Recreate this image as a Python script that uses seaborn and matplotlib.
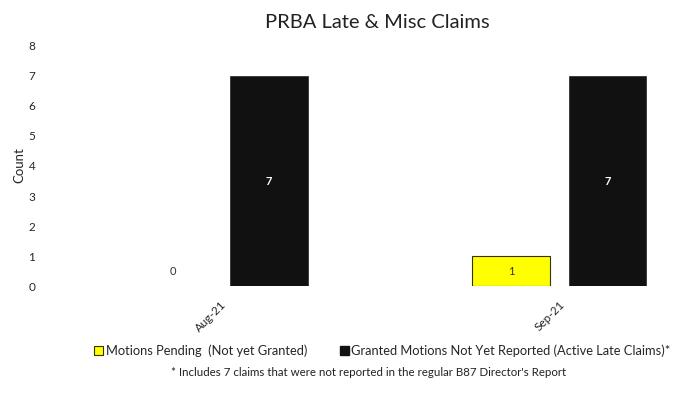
import pandas as pd
import numpy as np
import matplotlib
matplotlib.use('Agg')
import matplotlib.pyplot as plt
import seaborn as sns
from matplotlib.patches import Patch

months = ["Aug-21", "Sep-21"]
pending = [0, 1]
granted = [7, 7]
series_names = ["Motions Pending  (Not yet Granted)",
                "Granted Motions Not Yet Reported (Active Late Claims)*"]

df = pd.DataFrame({
    "month": months * 2,
    "count": pending + granted,
    "series": [series_names[0]] * len(months) + [series_names[1]] * len(months),
})

sns.set_style("white")
plt.rcParams['font.family'] = ['Lato', 'DejaVu Sans']

fig = plt.figure(figsize=(6.77, 4.09), dpi=100)
ax = fig.add_axes([0.081, 0.30, 0.91, 0.592])

colors = ["#ffff00", "#111111"]
sns.barplot(data=df, x="month", y="count", hue="series", palette=colors,
            width=0.57, gap=0.2, saturation=1, ax=ax, legend=False)

# outline on the bars (none on empty ones)
for p, v in zip(ax.containers[0], pending):
    p.set_edgecolor("#333300")
    p.set_linewidth(0.8 if v > 0 else 0)
for p in ax.containers[1]:
    p.set_edgecolor("#222222")
    p.set_linewidth(0.5)

# value labels
for p, v in zip(ax.containers[0], pending):
    y = v / 2 if v > 0 else 0.5
    ax.text(p.get_x() + p.get_width() / 2, y, str(v), ha="center", va="center",
            fontsize=8, color="#333333")
for p, v in zip(ax.containers[1], granted):
    ax.text(p.get_x() + p.get_width() / 2, v / 2, str(v), ha="center", va="center",
            fontsize=8, color="white", fontweight="bold")

ax.set_ylim(0, 8.05)
ax.set_xlim(-0.49, 1.33)
ax.set_yticks(range(0, 9))
ax.tick_params(axis="y", length=0, labelsize=8.5, pad=14)
ax.tick_params(axis="x", length=0, labelsize=8.5, pad=9)
plt.setp(ax.get_xticklabels(), rotation=45, ha="right", rotation_mode="anchor")
for s in ax.spines.values():
    s.set_visible(False)
ax.set_xlabel("")
ax.set_ylabel("Count", fontsize=9.5, labelpad=2)
ax.set_title("PRBA Late & Misc Claims", fontsize=14.5, color="#222222", pad=12, x=0.524)

handles = [Patch(facecolor=colors[0], edgecolor="#333300", linewidth=0.8),
           Patch(facecolor=colors[1], edgecolor="#111111")]
fig.legend(handles, series_names, loc="center", bbox_to_anchor=(0.565, 0.142), ncol=2,
           frameon=False, fontsize=9.3, handlelength=0.7, handleheight=0.7,
           handletextpad=0.2, columnspacing=2.5)

fig.text(0.545, 0.09, "* Includes 7 claims that were not reported in the regular B87 Director's Report",
         ha="center", va="center", fontsize=8.3, color="#222222")

fig.savefig("out.png", dpi=100)
